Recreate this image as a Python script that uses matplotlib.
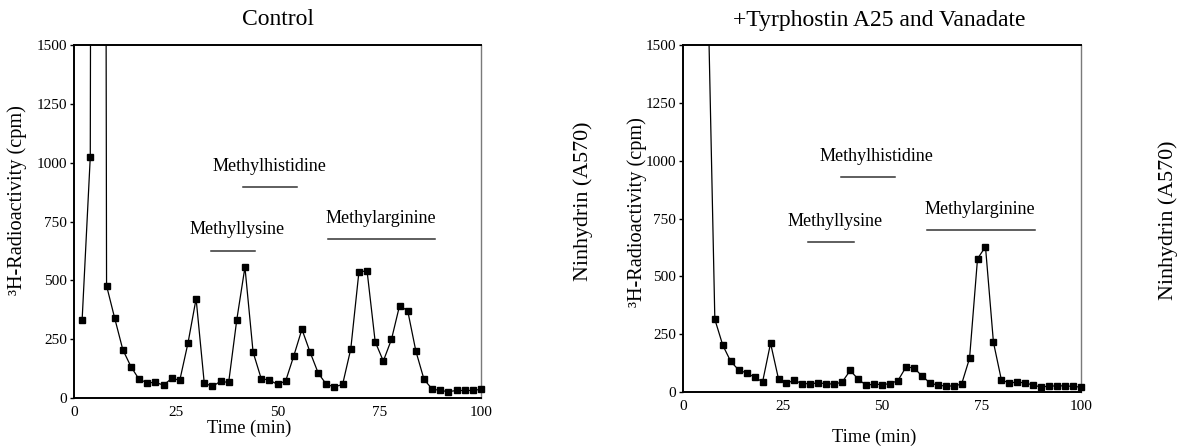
import matplotlib
matplotlib.use("Agg")
import matplotlib.pyplot as plt

plt.rcParams['font.family'] = ['Liberation Serif', 'DejaVu Serif']

# ---------------- data ----------------
control_time = [2, 4, 6, 8, 10, 12, 14, 16, 18, 20, 22, 24, 26, 28, 30, 32, 34, 36, 38, 40,
                42, 44, 46, 48, 50, 52, 54, 56, 58, 60, 62, 64, 66, 68, 70, 72, 74, 76, 78, 80,
                82, 84, 86, 88, 90, 92, 94, 96, 98, 100]
control_cpm = [333, 1025, 20000, 477, 339, 205, 133, 79, 65, 66, 55, 83, 76, 233, 422, 64, 49, 71, 66, 333,
               556, 195, 82, 76, 58, 72, 179, 292, 195, 106, 58, 47, 58, 208, 535, 541, 239, 157, 249, 393,
               370, 199, 79, 38, 32, 27, 32, 32, 32, 37]

treated_time = [6, 8, 10, 12, 14, 16, 18, 20, 22, 24, 26, 28, 30, 32, 34, 36, 38, 40,
                42, 44, 46, 48, 50, 52, 54, 56, 58, 60, 62, 64, 66, 68, 70, 72, 74, 76, 78, 80,
                82, 84, 86, 88, 90, 92, 94, 96, 98, 100]
treated_cpm = [1950, 314, 202, 132, 95, 82, 64, 44, 211, 56, 39, 50, 36, 36, 39, 36, 34, 43,
               93, 56, 29, 34, 32, 36, 49, 107, 105, 70, 40, 29, 26, 26, 34, 146, 576, 628, 215, 52,
               39, 43, 39, 30, 21, 26, 26, 27, 24, 21]

titles = ["Control", "+Tyrphostin A25 and Vanadate"]
x_ticks = [0, 25, 50, 75, 100]
y_ticks = [0, 250, 500, 750, 1000, 1250, 1500]
peak_names = ["Methylhistidine", "Methyllysine", "Methylarginine"]

YMAX = 1500

fig = plt.figure(figsize=(11.84, 4.46), dpi=100)
ax1 = fig.add_axes([74/1184, (446-398)/446, 407/1184, 353/446])
ax2 = fig.add_axes([683/1184, (446-392)/446, 398/1184, 347/446])

# layout for annotations: (text_x, text_y, line_x0, line_x1, line_y)
ann_layout = [
    [(48.0, 982, 41.5, 54.8, 897), (40.0, 714, 33.7, 44.5, 626), (75.4, 761, 62.4, 88.7, 676)],
    [(48.7, 1016, 39.7, 53.3, 929), (38.2, 739, 31.4, 43.0, 650), (74.6, 791, 61.3, 88.4, 700)],
]
title_pos = [(0.501, 1.071), (0.492, 1.072)]
xlabel_pos = [(0.43, -0.085), (0.48, -0.13)]
ylabel_pos = [(-0.14, 0.561), (-0.116, 0.519)]
nin_pos = [(1.25, 0.558), (1.219, 0.496)]

for i, (ax, t, v) in enumerate([(ax1, control_time, control_cpm), (ax2, treated_time, treated_cpm)]):
    ax.plot(t, v, color='black', lw=0.9, zorder=3)
    tin = [a for a, b in zip(t, v) if b <= YMAX]
    vin = [b for a, b in zip(t, v) if b <= YMAX]
    ax.plot(tin, vin, ls='none', marker='s', ms=4.0, color='black', clip_on=False, zorder=4)
    ax.set_xlim(0, 100)
    ax.set_ylim(0, YMAX)
    ax.set_xticks(x_ticks)
    ax.set_yticks(y_ticks)
    ax.tick_params(axis='x', length=0, pad=6, labelsize=11)
    ax.tick_params(axis='y', length=3, width=1, pad=2, labelsize=11, direction='out')
    for s in ['left', 'bottom', 'top']:
        ax.spines[s].set_color('black')
        ax.spines[s].set_linewidth(1.4)
    ax.spines['right'].set_color('#7a7a7a')
    ax.spines['right'].set_linewidth(1.0)

    ax.text(*title_pos[i], titles[i], transform=ax.transAxes, ha='center', va='center', fontsize=17)
    ax.text(*xlabel_pos[i], "Time (min)", transform=ax.transAxes, ha='center', va='center', fontsize=13.3)
    ax.text(*ylabel_pos[i], "³H-Radioactivity (cpm)", transform=ax.transAxes, ha='center', va='center',
            rotation=90, fontsize=14.6)
    ax.text(*nin_pos[i], "Ninhydrin (A570)", transform=ax.transAxes, ha='center', va='center',
            rotation=90, fontsize=15.8)

    for name, (tx, ty, x0, x1, ly) in zip(peak_names, ann_layout[i]):
        ax.text(tx, ty, name, ha='center', va='center', fontsize=13)
        ax.plot([x0, x1], [ly, ly], color='#333333', lw=1.1)

fig.savefig("out.png", dpi=100)
